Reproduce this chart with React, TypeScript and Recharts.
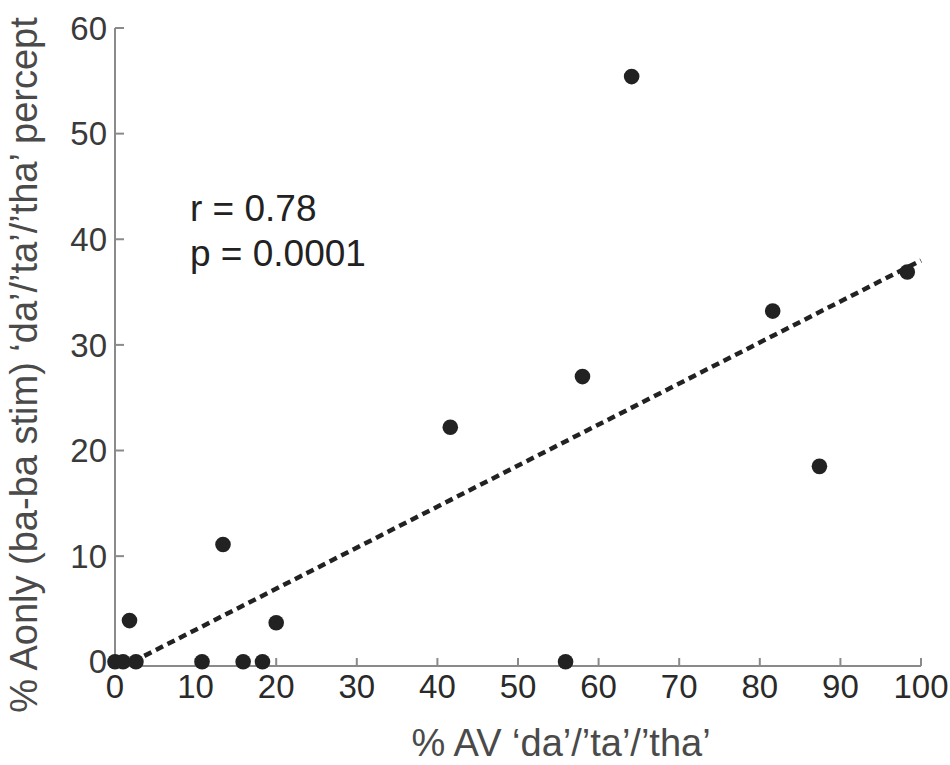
import { Label, Scatter, ScatterChart, XAxis, YAxis } from 'recharts';

// Individual subjects: % AV fused percept vs % A-only percept
const avPercent = [0, 1, 2.6, 1.8, 10.8, 13.4, 15.9, 18.3, 20, 41.6, 55.9, 58, 64.1, 81.6, 87.4, 98.3];
const aOnlyPercent = [0, 0, 0, 3.9, 0, 11.1, 0, 0, 3.7, 22.2, 0, 27, 55.4, 33.2, 18.5, 36.9];

// Least-squares fit endpoints
const fitX = [2.2, 100];
const fitY = [0, 38];

const xTicks = [0, 10, 20, 30, 40, 50, 60, 70, 80, 90, 100];
const yTicks = [0, 10, 20, 30, 40, 50, 60];

const statsLines = ['r = 0.78', 'p = 0.0001'];

const FONT = '"Liberation Sans", Arial, sans-serif';
const AXIS_GRAY = '#8a8a8a';

const points = avPercent.map((x, i) => ({ x, y: aOnlyPercent[i] }));
const fitLine = fitX.map((x, i) => ({ x, y: fitY[i] }));

const Dot = (props: any) => <circle cx={props.cx} cy={props.cy} r={7.8} fill="#222" />;

export default function App() {
  return (
    <div style={{ position: 'absolute', left: 0, top: 0, width: 950, height: 765, background: '#fff' }}>
      <ScatterChart width={950} height={765} margin={{ top: 28, right: 29, bottom: 0, left: 0 }}>
        <XAxis
          type="number"
          dataKey="x"
          domain={[0, 100]}
          ticks={xTicks}
          interval={0}
          height={99}
          stroke={AXIS_GRAY}
          strokeWidth={2}
          tickSize={-8}
          tickMargin={17}
          tick={{ fontSize: 33, fill: '#2a2a2a', fontFamily: FONT }}
        >
          <Label
            content={(p: any) => {
              const vb = p.viewBox;
              return (
                <text
                  x={vb.x + vb.width / 2 + 43}
                  y={vb.y + vb.height - 9}
                  textAnchor="middle"
                  fontSize={38}
                  fill="#4a4a4a"
                  fontFamily={FONT}
                >
                  % AV ‘da’/’ta’/’tha’
                </text>
              );
            }}
          />
        </XAxis>
        <YAxis
          type="number"
          dataKey="y"
          domain={[-0.4, 60]}
          ticks={yTicks}
          interval={0}
          width={115}
          stroke={AXIS_GRAY}
          strokeWidth={2}
          tickSize={-9}
          tickMargin={17}
          tick={{ fontSize: 33, fill: '#3a3a3a', fontFamily: FONT }}
        >
          <Label
            content={(p: any) => {
              const vb = p.viewBox;
              const cx = 37;
              const cy = vb.y + vb.height / 2 + 18;
              return (
                <text
                  x={cx}
                  y={cy}
                  transform={`rotate(-90 ${cx} ${cy})`}
                  textAnchor="middle"
                  fontSize={38}
                  fill="#4a4a4a"
                  fontFamily={FONT}
                >
                  % Aonly (ba-ba stim) ‘da’/’ta’/’tha’ percept
                </text>
              );
            }}
          />
        </YAxis>
        <Scatter
          data={fitLine}
          line={{ stroke: '#222', strokeWidth: 4.5, strokeDasharray: '8 5' }}
          shape={() => null}
          isAnimationActive={false}
        />
        <Scatter data={points} shape={Dot} isAnimationActive={false} />
      </ScatterChart>
      <div
        style={{
          position: 'absolute',
          left: 190,
          top: 186,
          fontFamily: FONT,
          fontSize: 37,
          lineHeight: '45px',
          color: '#222',
        }}
      >
        {statsLines.map((s) => (
          <div key={s}>{s}</div>
        ))}
      </div>
    </div>
  );
}
